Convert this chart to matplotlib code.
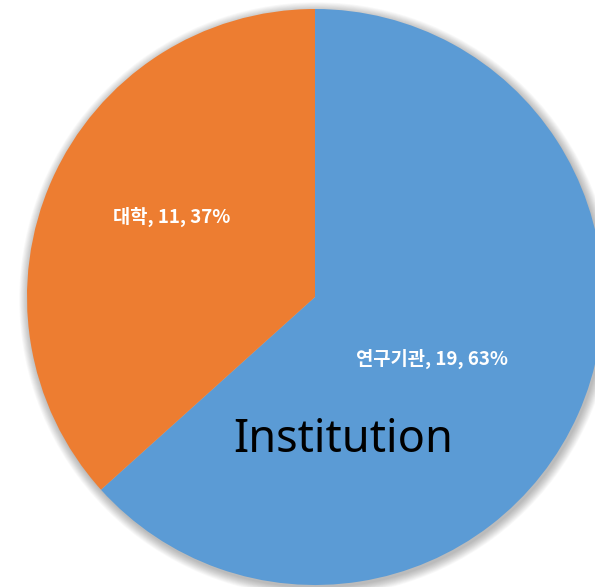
import numpy as np
import matplotlib.pyplot as plt
from matplotlib.patches import Circle

# data
categories = ['연구기관', '대학']
counts = [19, 11]
colors = ['#5B9BD5', '#ED7D31']

W, H = 595, 587
CX, CY, R = 315, H - 297, 288

fig = plt.figure(figsize=(W / 100, H / 100), dpi=100)
ax = fig.add_axes([0, 0, 1, 1])
ax.set_xlim(0, W)
ax.set_ylim(0, H)
ax.set_aspect('equal')
ax.axis('off')

# soft shadow around the pie
for i in range(12):
    ax.add_patch(Circle((CX + 1.5, CY - 2.5), R + 0.5 + i * 0.8,
                        color='black', alpha=0.025, lw=0, zorder=0))

wedges, _ = ax.pie(counts, colors=colors, startangle=90, counterclock=False,
                   center=(CX, CY), radius=R, frame=True,
                   wedgeprops=dict(linewidth=0))
ax.set_xlim(0, W)
ax.set_ylim(0, H)
ax.axis('off')

total = sum(counts)
label_dist = [0.46, 0.57]
label_shift = [-4, -5]
for w, cat, n, d, s in zip(wedges, categories, counts, label_dist, label_shift):
    mid = (w.theta1 + w.theta2) / 2 + s
    x = CX + d * R * np.cos(np.radians(mid))
    y = CY + d * R * np.sin(np.radians(mid))
    ax.text(x, y, f'{cat}, {n}, {round(n / total * 100)}%', ha='center', va='center',
            color='white', fontsize=13.5, fontweight='bold',
            family=['Noto Sans CJK KR', 'DejaVu Sans'])

fig.text(343 / W, 1 - 440 / H, 'Institution', ha='center', va='center',
         fontsize=32.5, color='black', family=['Noto Sans', 'DejaVu Sans'])

fig.savefig('out.png', dpi=100)
